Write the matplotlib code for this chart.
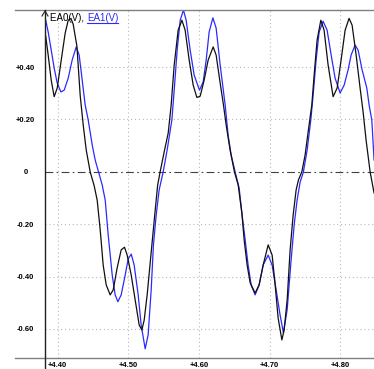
import matplotlib
matplotlib.use('Agg')
import matplotlib.pyplot as plt
from matplotlib.lines import Line2D

# EA0(V) - black trace
t_ea0 = [4.383, 4.3865, 4.3908, 4.3950, 4.3993, 4.4050, 4.4106, 4.4149, 4.4187, 4.4219,
         4.4272, 4.4319, 4.4361, 4.4404, 4.4460, 4.4517, 4.4559, 4.4602, 4.4644, 4.4687,
         4.4743, 4.4786, 4.4842, 4.4899, 4.4946, 4.4984, 4.5041, 4.5097, 4.5154, 4.5192,
         4.5225, 4.5267, 4.5334, 4.5381, 4.5416, 4.5451, 4.5508, 4.5565, 4.5607, 4.5650,
         4.5706, 4.5759, 4.5805, 4.5862, 4.5919, 4.5971, 4.6018, 4.6074, 4.6131, 4.6202,
         4.6244, 4.6301, 4.6348, 4.6386, 4.6442, 4.6503, 4.6556, 4.6608, 4.6641, 4.6683,
         4.6726, 4.6796, 4.6853, 4.6910, 4.6981, 4.7037, 4.7080, 4.7122, 4.7175, 4.7207,
         4.7250, 4.7292, 4.7335, 4.7377, 4.7410, 4.7458, 4.7504, 4.7551, 4.7599, 4.7632,
         4.7674, 4.7727, 4.7773, 4.7830, 4.7901, 4.7958, 4.8014, 4.8071, 4.8127, 4.8170,
         4.8227, 4.8283, 4.8326, 4.8368, 4.8425, 4.8481]
ea0 = [0.518, 0.446, 0.350, 0.287, 0.320, 0.427, 0.530, 0.579, 0.586, 0.564,
       0.480, 0.290, 0.180, 0.083, 0.000, -0.054, -0.108, -0.222, -0.356, -0.432,
       -0.470, -0.451, -0.367, -0.298, -0.288, -0.318, -0.394, -0.489, -0.585, -0.604,
       -0.566, -0.470, -0.279, -0.146, -0.050, 0.000, 0.076, 0.148, 0.255, 0.408,
       0.541, 0.579, 0.541, 0.427, 0.331, 0.284, 0.289, 0.350, 0.427, 0.477,
       0.446, 0.339, 0.255, 0.179, 0.083, 0.000, -0.050, -0.157, -0.260, -0.356,
       -0.424, -0.463, -0.432, -0.356, -0.279, -0.318, -0.432, -0.558, -0.642, -0.604,
       -0.489, -0.298, -0.165, -0.069, -0.031, 0.000, 0.064, 0.160, 0.255, 0.369,
       0.503, 0.579, 0.541, 0.408, 0.287, 0.320, 0.427, 0.541, 0.586, 0.560,
       0.446, 0.320, 0.228, 0.121, 0.000, -0.081]

# EA1(V) - blue trace
t_ea1 = [4.383, 4.3865, 4.3908, 4.3950, 4.3993, 4.4045, 4.4092, 4.4149, 4.4205, 4.4262,
         4.4304, 4.4347, 4.4389, 4.4432, 4.4489, 4.4531, 4.4578, 4.4630, 4.4673, 4.4715,
         4.4772, 4.4814, 4.4852, 4.4899, 4.4956, 4.4998, 4.5041, 4.5083, 4.5140, 4.5182,
         4.5239, 4.5281, 4.5324, 4.5356, 4.5395, 4.5437, 4.5494, 4.5550, 4.5617, 4.5650,
         4.5692, 4.5735, 4.5781, 4.5819, 4.5876, 4.5933, 4.6008, 4.6060, 4.6103, 4.6145,
         4.6198, 4.6244, 4.6301, 4.6372, 4.6414, 4.6457, 4.6513, 4.6570, 4.6612, 4.6655,
         4.6697, 4.6740, 4.6796, 4.6853, 4.6910, 4.6981, 4.7037, 4.7094, 4.7150, 4.7197,
         4.7250, 4.7306, 4.7349, 4.7391, 4.7434, 4.7480, 4.7533, 4.7585, 4.7618, 4.7660,
         4.7703, 4.7759, 4.7816, 4.7873, 4.7929, 4.8000, 4.8057, 4.8113, 4.8156, 4.8212,
         4.8255, 4.8312, 4.8378, 4.8411, 4.8449, 4.8481]
ea1 = [0.579, 0.534, 0.465, 0.396, 0.339, 0.305, 0.312, 0.358, 0.427, 0.477,
       0.446, 0.350, 0.255, 0.198, 0.102, 0.045, 0.000, -0.050, -0.108, -0.241,
       -0.394, -0.470, -0.496, -0.470, -0.394, -0.333, -0.314, -0.356, -0.470, -0.585,
       -0.676, -0.623, -0.451, -0.279, -0.165, -0.069, 0.000, 0.083, 0.198, 0.312,
       0.465, 0.579, 0.618, 0.579, 0.465, 0.369, 0.312, 0.343, 0.427, 0.534,
       0.588, 0.549, 0.408, 0.255, 0.140, 0.064, 0.000, -0.062, -0.165, -0.260,
       -0.356, -0.432, -0.470, -0.432, -0.356, -0.318, -0.356, -0.451, -0.547, -0.615,
       -0.527, -0.337, -0.203, -0.108, -0.039, 0.000, 0.083, 0.198, 0.293, 0.427,
       0.534, 0.575, 0.541, 0.446, 0.358, 0.301, 0.331, 0.389, 0.446, 0.484,
       0.465, 0.389, 0.320, 0.255, 0.198, 0.045]

xticks = [4.40, 4.50, 4.60, 4.70, 4.80]
xtick_labels = ['+4.40', '+4.50', '+4.60', '+4.70', '+4.80']
yticks = [0.40, 0.20, 0.0, -0.20, -0.40, -0.60]
ytick_labels = ['+0.40', '+0.20', '0', '-0.20', '-0.40', '-0.60']

W, H = 374, 369
fig = plt.figure(figsize=(W / 100, H / 100), dpi=100)
ax = fig.add_axes([45 / W, 11 / H, 329 / W, 348 / H])

# grid
for x in xticks:
    ax.axvline(x, color='#b8b8b8', lw=0.8, ls=(0, (1, 2.5)), zorder=1)
for y in yticks:
    if y != 0:
        ax.axhline(y, color='#b8b8b8', lw=0.8, ls=(0, (1, 2.5)), zorder=1)
ax.axhline(0, color='#404040', lw=0.8, ls=(0, (7, 3, 1.5, 3)), zorder=1)

ax.plot(t_ea0, ea0, color='#101010', lw=0.9, zorder=3)
ax.plot(t_ea1, ea1, color='#2a2aff', lw=0.9, zorder=2)

ax.set_xlim(4.382, 4.848)
ax.set_ylim(-0.711, 0.618)

ax.set_xticks(xticks, xtick_labels)
ax.set_yticks(yticks, ytick_labels)
tick_font = dict(family='Liberation Sans', weight='bold', size=5.5)
for lab in ax.get_xticklabels() + ax.get_yticklabels():
    lab.set_fontproperties(tick_font)
for lab in ax.get_yticklabels():
    lab.set_horizontalalignment('center')
ax.tick_params(axis='x', length=0, pad=3)
ax.tick_params(axis='y', length=0, pad=14)

for side in ['top', 'bottom', 'right', 'left']:
    ax.spines[side].set_visible(False)

# frame lines (figure pixel coords)
def px_line(xs, ys, **kw):
    fig.add_artist(Line2D([v / W for v in xs], [1 - v / H for v in ys],
                          transform=fig.transFigure, **kw))

px_line([15, W], [10, 10], color='#808080', lw=1.0)
px_line([15, W], [358, 358], color='#808080', lw=1.0)
px_line([45, 45], [10, H], color='#202020', lw=1.0)
px_line([42, 45, 48], [16, 11, 16], color='#202020', lw=0.8)

# legend text
leg_font = dict(family='Liberation Sans', size=7)
t1 = fig.text(50 / W, 1 - 21 / H, 'EA0(V), ', color='black', va='baseline', **leg_font)
fig.canvas.draw()
bb = t1.get_window_extent()
t2 = fig.text(bb.x1 / W, 1 - 21 / H, 'EA1(V)', color='#2a2aff', va='baseline', **leg_font)
fig.canvas.draw()
bb2 = t2.get_window_extent()
fig.add_artist(Line2D([bb2.x0 / W, bb2.x1 / W], [1 - 22.5 / H, 1 - 22.5 / H],
                      transform=fig.transFigure, color='#2a2aff', lw=0.8))

fig.savefig('out.png', dpi=100)
